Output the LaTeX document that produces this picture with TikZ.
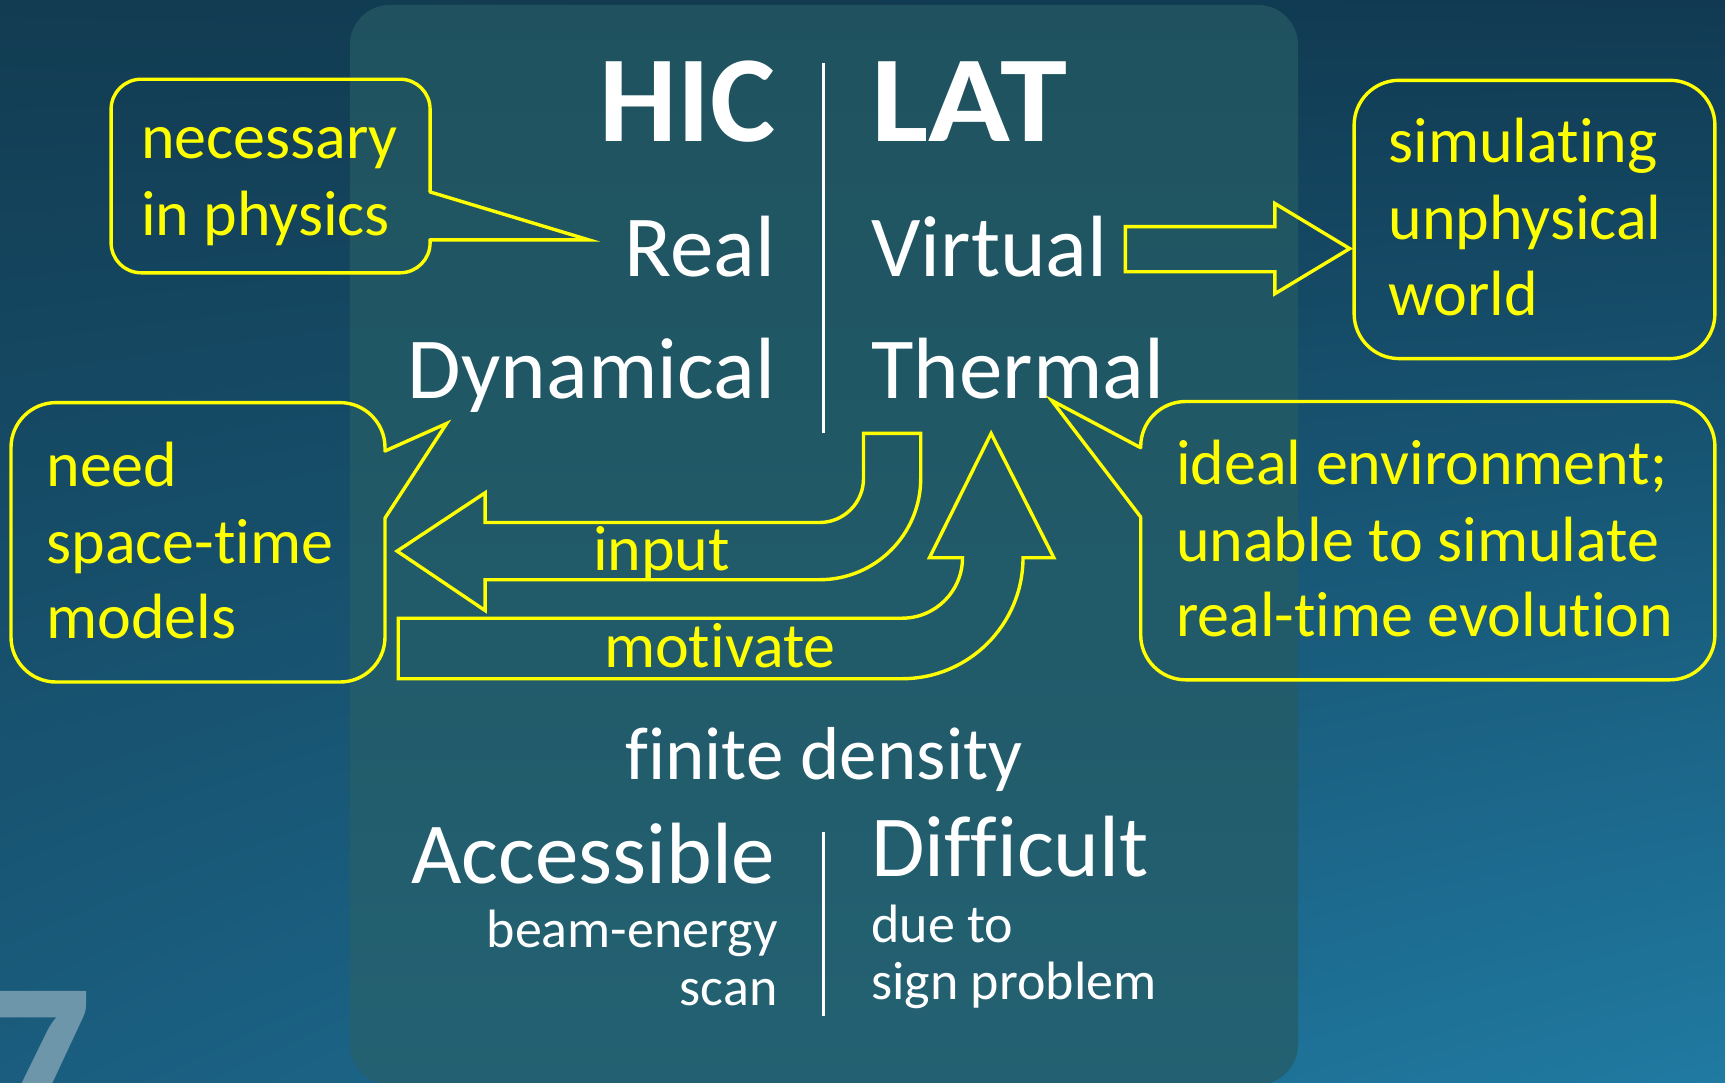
\documentclass[tikz,border=0pt]{standalone}
\usepackage{fontspec}
\usetikzlibrary{shadings}
\setmainfont{Carlito}[Ligatures=NoCommon]
\definecolor{bgUL}{HTML}{123C52}
\definecolor{bgUR}{HTML}{113A52}
\definecolor{bgLL}{HTML}{1A5D7E}
\definecolor{bgLR}{HTML}{207AA2}
\definecolor{panelTop}{HTML}{1F525E}
\definecolor{panelBot}{HTML}{236172}
\definecolor{hl}{HTML}{FFFF00}
\definecolor{pageno}{HTML}{6E96AA}
\begin{document}
\begin{tikzpicture}[x=1.1pt, y=-1.1pt,
  outline/.style={draw=hl, line width=3.4pt, line join=miter, line cap=round},
  boxline/.style={outline, rounded corners=#1},
  divider/.style={draw=white, line width=3pt},
  wtext/.style={text=white, inner sep=0pt, font=\fontsize{#1}{#1}\selectfont},
  headtext/.style={text=white, inner sep=0pt, font=\bfseries\fontsize{123pt}{123pt}\selectfont},
  ytext/.style={text=hl, inner sep=0pt, anchor=base west, font=\fontsize{64pt}{64pt}\selectfont}]
\useasboundingbox (0,0) rectangle (1568.18,983.64);
\clip (0,0) rectangle (1568.18,983.64);

% background and central panel
\shade[upper left=bgUL, upper right=bgUR, lower left=bgLL, lower right=bgLR] (0,0) rectangle (1568.18,983.64);
\node[text=pageno, inner sep=0pt, anchor=base east, font=\bfseries\fontsize{250pt}{250pt}\selectfont] (pgno) at (85,1049) {7};
\shade[top color=panelTop, bottom color=panelBot, rounded corners=40pt] (318,4.5) rectangle (1180,986);

% column headings and dividers
\node[headtext, anchor=base east] (hic) at (705,129) {HIC};
\node[headtext, anchor=base west, xscale=1.1, transform shape] (lat) at (792,129) {LAT};
\draw[divider] (749,57) -- (749,394);
\node[wtext=87pt, anchor=base east] (real) at (705,251) {Real};
\node[wtext=87pt, anchor=base west] (virtual) at (792,251) {Virtual};
\node[wtext=87pt, anchor=base east] (dyn) at (705,362) {Dynamical};
\node[wtext=87pt, anchor=base west] (therm) at (792,362) {Thermal};

\node[wtext=75pt, anchor=base] (fd) at (749,709) {finite density};
\node[wtext=87pt, anchor=base east] (acc) at (705,803) {Accessible};
\node[wtext=87pt, anchor=base west] (diff) at (792,797) {Difficult};
\draw[divider] (749,756) -- (749,924);
\node[wtext=54pt, anchor=base east] (beam) at (707,861) {beam-energy};
\node[wtext=54pt, anchor=base east] (scan) at (707,914) {scan};
\node[wtext=54pt, anchor=base west] (due) at (792,857) {due to};
\node[wtext=54pt, anchor=base west] (sign) at (792,909) {sign problem};

% callout: necessary in physics
\draw[boxline=30pt] (391,174.5) -- (391,72) -- (101,72) -- (101,248) -- (391,248) -- (391,218);
\draw[outline] (391,174.5) -- (535,218) -- (391,218);
\node[ytext] (nec1) at (128,144) {necessary};
\node[ytext] (nec2) at (128,214) {in physics};

% callout: simulating unphysical world
\draw[boxline=45pt] (1231,73) rectangle (1559,326);
\node[ytext] (sim1) at (1262,148) {simulating};
\node[ytext] (sim2) at (1262,218) {unphysical};
\node[ytext] (sim3) at (1262,287) {world};

% callout: need space-time models
\draw[boxline=45pt] (350,410) -- (350,366) -- (10,366) -- (10,620) -- (350,620) -- (350,471);
\draw[outline] (350,410) -- (406,385) -- (350,471);
\node[ytext] (need1) at (42,442) {need};
\node[ytext] (need2) at (42,512) {space-time};
\node[ytext] (need3) at (42,580) {models};

% callout: ideal environment
\draw[boxline=45pt] (1037,407) -- (1037,365) -- (1559,365) -- (1559,618) -- (1037,618) -- (1037,470);
\draw[outline] (1037,407) -- (956,364) -- (1037,470);
\node[ytext] (ide1) at (1069,440) {ideal environment;};
\node[ytext] (ide2) at (1069,510) {unable to simulate};
\node[ytext] (ide3) at (1069,579) {real-time evolution};

% block arrow from Virtual
\draw[outline] (1023,206) -- (1159,206) -- (1159,185) -- (1227,226) -- (1159,267) -- (1159,247) -- (1023,247) -- cycle;

% bent arrow: input
\draw[outline] (785,394) -- (837,394) -- (837,435)
  arc[start angle=0, end angle=-90, radius=101.2pt] -- (441,527) -- (441,555)
  -- (361,501) -- (441,448) -- (441,475) -- (745,475)
  arc[start angle=-90, end angle=0, radius=44pt] -- cycle;
\node[ytext] (inp) at (539,519) {input};

% bent arrow: motivate
\draw[outline] (362,562) -- (820,562)
  arc[start angle=-90, end angle=0, radius=60.5pt] -- (845,507) -- (901,394)
  -- (958,507) -- (930,507)
  arc[start angle=0, end angle=-90, radius=121pt] -- (362,617) -- cycle;
\node[ytext] (mot) at (549,607) {motivate};
\end{tikzpicture}
\end{document}
